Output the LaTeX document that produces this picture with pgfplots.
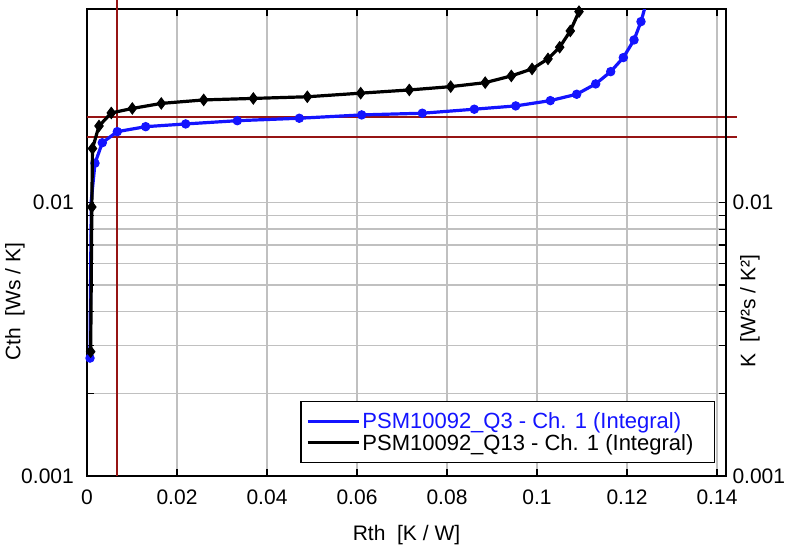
\documentclass[border=0pt]{standalone}
\usepackage{fontspec}
\setmainfont{Liberation Sans}
\usepackage{pgfplots}
\pgfplotsset{compat=1.18}
\usepackage{pgfplotstable}
\definecolor{cursor}{RGB}{150,20,20}
\definecolor{gridgray}{RGB}{192,192,192}
\definecolor{myblue}{RGB}{20,20,255}

\pgfplotstableread{
x y
0.00067 0.00270
0.00078 0.0048
0.00096 0.01023
0.00178 0.01394
0.0034 0.01657
0.00673 0.01819
0.01304 0.01897
0.02193 0.01941
0.0334 0.01995
0.04718 0.02036
0.06104 0.02094
0.07451 0.02124
0.08607 0.02197
0.09527 0.02259
0.10296 0.02362
0.10882 0.02492
0.11304 0.02719
0.11638 0.03015
0.11918 0.03394
0.12156 0.03938
0.12311 0.04596
0.12422 0.0534
}\bluedata

\pgfplotstableread{
x y
0.00082 0.00285
0.00107 0.00964
0.00122 0.01578
0.00267 0.01908
0.0054 0.02129
0.01007 0.02211
0.01651 0.02307
0.02593 0.02376
0.03696 0.02406
0.04896 0.0244
0.06082 0.02515
0.07162 0.02584
0.08082 0.02657
0.08849 0.02748
0.09429 0.02908
0.0989 0.03085
0.10244 0.03357
0.10504 0.03704
0.1074 0.04248
0.10933 0.04998
0.1100 0.0555
}\blackdata

\begin{document}
\begin{tikzpicture}
\begin{axis}[
  scale only axis, width=639pt, height=467pt,
  xmin=0, xmax=0.142, ymin=0.001, ymax=0.0511, ymode=log,
  xtick={0,0.02,0.04,0.06,0.08,0.1,0.12,0.14},
  xticklabels={0,0.02,0.04,0.06,0.08,0.1,0.12,0.14},
  ytick={0.001,0.01}, yticklabels={},
  grid=both,
  major grid style={gridgray, line width=1.3pt},
  minor grid style={gridgray, line width=1.3pt},
  tick style={black, line width=1.2pt},
  major tick length=7pt, minor tick length=7pt,
  axis line style={black, line width=1.6pt},
  /pgf/number format/assume math mode=true,
  every tick label/.append style={font=\fontsize{21}{25}\selectfont},
  xticklabel style={anchor=north, yshift=-10pt},
  label style={font=\fontsize{21}{25}\selectfont},
  xlabel={Rth~~[K / W]},
  xlabel style={at={(axis description cs:0.5,0)}, anchor=center, yshift=-59pt},
  ylabel={Cth~~[Ws / K]},
  ylabel style={at={(axis description cs:-0.1127,0.373)}, anchor=center},
  clip mode=individual,
  legend style={at={(axis description cs:0.983,0.0272)}, anchor=south east,
    draw=black, line width=1.5pt, fill=white,
    font=\fontsize{22}{26}\selectfont, inner xsep=5pt, inner ysep=9pt},
  legend cell align=left,
  legend image code/.code={\draw[#1, mark=none, line width=3pt] (0pt,0pt) -- (43pt,0pt);
    \path (0pt,0pt) -- (51pt,0pt);},
]
\draw[cursor, line width=1.8pt] (axis cs:0.0066,0.001) -- (axis cs:0.0066,0.0552);
\draw[cursor, line width=1.8pt] (axis cs:0,0.02055) -- (axis cs:0.1444,0.02055);
\draw[cursor, line width=1.8pt] (axis cs:0,0.01738) -- (axis cs:0.1444,0.01738);
\node[anchor=east, inner sep=0pt, xshift=-13pt, font=\fontsize{21}{25}\selectfont]
  at (axis cs:0,0.01) {0.01};
\node[anchor=east, inner sep=0pt, xshift=-13pt, font=\fontsize{21}{25}\selectfont]
  at (axis cs:0,0.001) {0.001};
\addplot[myblue, line width=3.2pt, mark=*, mark size=4.2pt,
  mark options={line width=1pt},
  mark indices={1,4,5,6,7,8,9,10,11,12,13,14,15,16,17,18,19,20,21}]
  table[x=x, y=y] {\bluedata};
\addlegendentry{\textcolor{myblue}{PSM10092\_Q3 - Ch. 1 (Integral)}}
\addplot[black, line width=3.2pt, mark=diamond*, mark size=5.6pt,
  mark options={line width=1pt}]
  table[x=x, y=y] {\blackdata};
\addlegendentry{PSM10092\_Q13 - Ch. 1 (Integral)\hspace*{14pt}}
\end{axis}
\begin{axis}[
  scale only axis, width=639pt, height=467pt,
  xmin=0, xmax=0.142, ymin=0.001, ymax=0.0511, ymode=log,
  axis x line=none, axis y line*=right,
  ytick={0.001,0.01}, yticklabels={0.001,0.01},
  major tick length=0pt, minor tick length=0pt,
  axis line style={black, line width=1.6pt},
  every tick label/.append style={font=\fontsize{21}{25}\selectfont},
  yticklabel style={anchor=west, xshift=3pt},
  label style={font=\fontsize{21}{25}\selectfont},
  ylabel={K~~[W²s / K²]},
  ylabel style={at={(axis description cs:1.0376,0.353)}, anchor=center},
]
\end{axis}
\pgfresetboundingbox
\path[use as bounding box] (-87pt,-72pt) rectangle (702pt,476pt);
\end{tikzpicture}
\end{document}
